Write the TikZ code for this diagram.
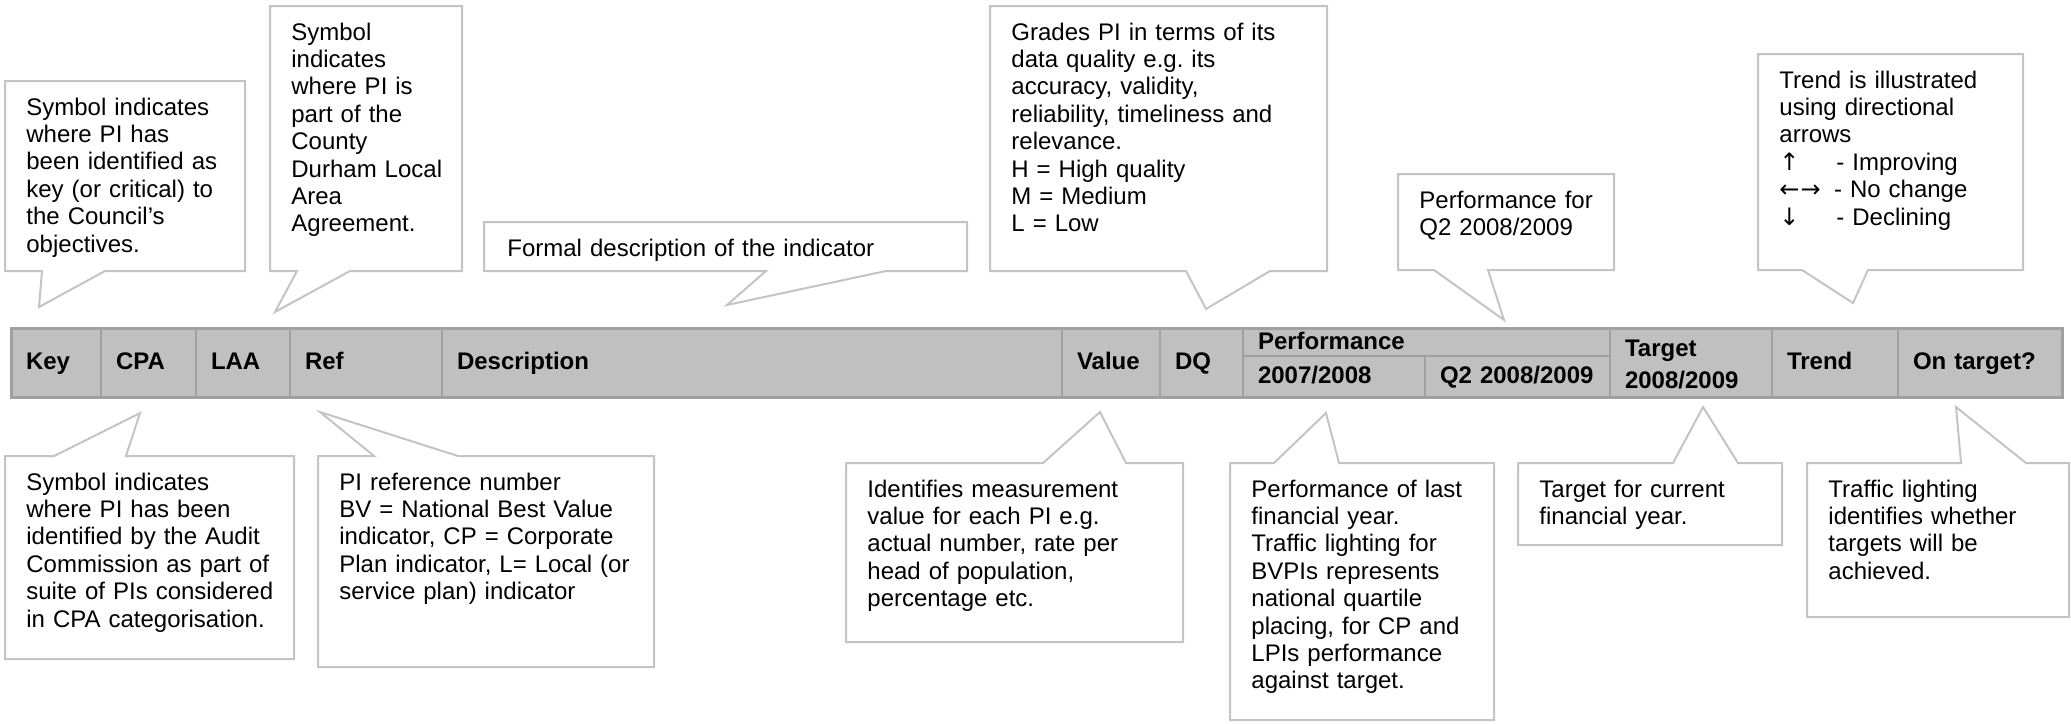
\documentclass[tikz,border=0pt]{standalone}
\usepackage{fontspec}
\setmainfont{Liberation Sans}
\newfontfamily\arrowfont{DejaVu Sans}
\usetikzlibrary{positioning}
\definecolor{headgray}{HTML}{C0C0C0}
\definecolor{gridgray}{HTML}{A0A0A0}
\definecolor{bubblegray}{HTML}{C4C4C4}
\frenchspacing

\begin{document}
\begin{tikzpicture}[
  x=0.5pt, y=-0.5pt,
  cell/.style={rectangle, draw=gridgray, line width=0.75pt, fill=headgray, outer sep=0pt, inner xsep=7.5pt, inner ysep=0pt, minimum height=34.5pt, align=left, text height=9.8pt, text depth=2.6pt, font=\bfseries\fontsize{12}{13.7}\selectfont},
  frame/.style={draw=gridgray, line width=1.5pt},
  bubble/.style={draw=bubblegray, line width=1pt, fill=white},
  note/.style={anchor=base west, inner sep=0pt, align=left, text width=260pt, font=\fontsize{12}{13.7}\selectfont}
]
\useasboundingbox (0,0) rectangle (2071,723);

\node[cell, text width=30pt, anchor=north west] (key) at (11,328) {Key};
\node[cell, text width=32.5pt, right=0pt of key] (cpa) {CPA};
\node[cell, text width=32pt, right=0pt of cpa] (laa) {LAA};
\node[cell, text width=61pt, right=0pt of laa] (ref) {Ref};
\node[cell, text width=295pt, right=0pt of ref] (desc) {Description};
\node[cell, text width=34pt, right=0pt of desc] (value) {Value};
\node[cell, text width=26.5pt, right=0pt of value] (dq) {DQ};
\node[cell, text width=168.5pt, minimum height=14pt, anchor=north west] (perf) at (dq.north east) {Performance};
\node[cell, text width=76pt, minimum height=20.5pt, anchor=north west] (lastyear) at (perf.south west) {2007/2008};
\node[cell, text width=77.5pt, minimum height=20.5pt, right=0pt of lastyear] (quarter) {Q2 2008/2009};
\node[cell, text width=66pt, text depth=15.6pt, anchor=north west] (target) at (perf.north east) {Target\\[2.4pt]2008/2009};
\node[cell, text width=48pt, right=0pt of target] (trend) {Trend};
\node[cell, text width=67pt, right=0pt of trend] (ontarget) {On target?};
\draw[frame] (key.north west) rectangle (ontarget.south east);

\draw[bubble] (5,81) -- (245,81) -- (245,271) -- (105,271) -- (39,307) -- (42,271) -- (5,271) -- cycle;
\node[note] (keytext) at (26,115) {Symbol indicates\\where PI has\\been identified as\\key (or critical) to\\the Council’s\\objectives.};

\draw[bubble] (270,6) -- (462,6) -- (462,271) -- (350,271) -- (275,312) -- (297,271) -- (270,271) -- cycle;
\node[note] (laatext) at (291,40) {Symbol\\indicates\\where PI is\\part of the\\County\\Durham Local\\Area\\Agreement.};

\draw[bubble] (484,222) -- (967,222) -- (967,271) -- (886,271) -- (727,305) -- (766,271) -- (484,271) -- cycle;
\node[note] (desctext) at (507,256) {Formal description of the indicator};

\draw[bubble] (990,6) -- (1327,6) -- (1327,271) -- (1270,271) -- (1206,309) -- (1186,271) -- (990,271) -- cycle;
\node[note] (dqtext) at (1011,40) {Grades PI in terms of its\\data quality e.g. its\\accuracy, validity,\\reliability, timeliness and\\relevance.\\H = High quality\\M = Medium\\L = Low};

\draw[bubble] (1398,174) -- (1614,174) -- (1614,270) -- (1488,270) -- (1504,320) -- (1434,270) -- (1398,270) -- cycle;
\node[note] (quartertext) at (1419,208) {Performance for\\Q2 2008/2009};

\draw[bubble] (1758,54) -- (2023,54) -- (2023,270) -- (1868,270) -- (1853,303) -- (1802,270) -- (1758,270) -- cycle;
\node[note] (trendtext) at (1779,88) {Trend is illustrated\\using directional\\arrows\\\makebox[28.5pt][l]{\arrowfont ↑}- Improving\\\makebox[27.3pt][l]{\arrowfont ←\kern0.5pt→}- No change\\\makebox[28.5pt][l]{\arrowfont ↓}- Declining};

\draw[bubble] (5,456) -- (54,456) -- (140,413) -- (126,456) -- (294,456) -- (294,659) -- (5,659) -- cycle;
\node[note] (cpatext) at (26,490) {Symbol indicates\\where PI has been\\identified by the Audit\\Commission as part of\\suite of PIs considered\\in CPA categorisation.};

\draw[bubble] (318,456) -- (374,456) -- (320,412) -- (458,456) -- (654,456) -- (654,667) -- (318,667) -- cycle;
\node[note] (reftext) at (339,490) {PI reference number\\BV = National Best Value\\indicator, CP = Corporate\\Plan indicator, L= Local (or\\service plan) indicator};

\draw[bubble] (846,463) -- (1043,463) -- (1100,412) -- (1126,463) -- (1183,463) -- (1183,642) -- (846,642) -- cycle;
\node[note] (valuetext) at (867,497) {Identifies measurement\\value for each PI e.g.\\actual number, rate per\\head of population,\\percentage etc.};

\draw[bubble] (1230,463) -- (1274,463) -- (1326,413) -- (1339,463) -- (1494,463) -- (1494,720) -- (1230,720) -- cycle;
\node[note] (lastyeartext) at (1251,497) {Performance of last\\financial year.\\Traffic lighting for\\BVPIs represents\\national quartile\\placing, for CP and\\LPIs performance\\against target.};

\draw[bubble] (1518,463) -- (1673,463) -- (1703,407) -- (1738,463) -- (1782,463) -- (1782,545) -- (1518,545) -- cycle;
\node[note] (targettext) at (1539,497) {Target for current\\financial year.};

\draw[bubble] (1807,463) -- (1961,463) -- (1956,407) -- (2026,463) -- (2069,463) -- (2069,617) -- (1807,617) -- cycle;
\node[note] (ontargettext) at (1828,497) {Traffic lighting\\identifies whether\\targets will be\\achieved.};
\end{tikzpicture}
\end{document}
